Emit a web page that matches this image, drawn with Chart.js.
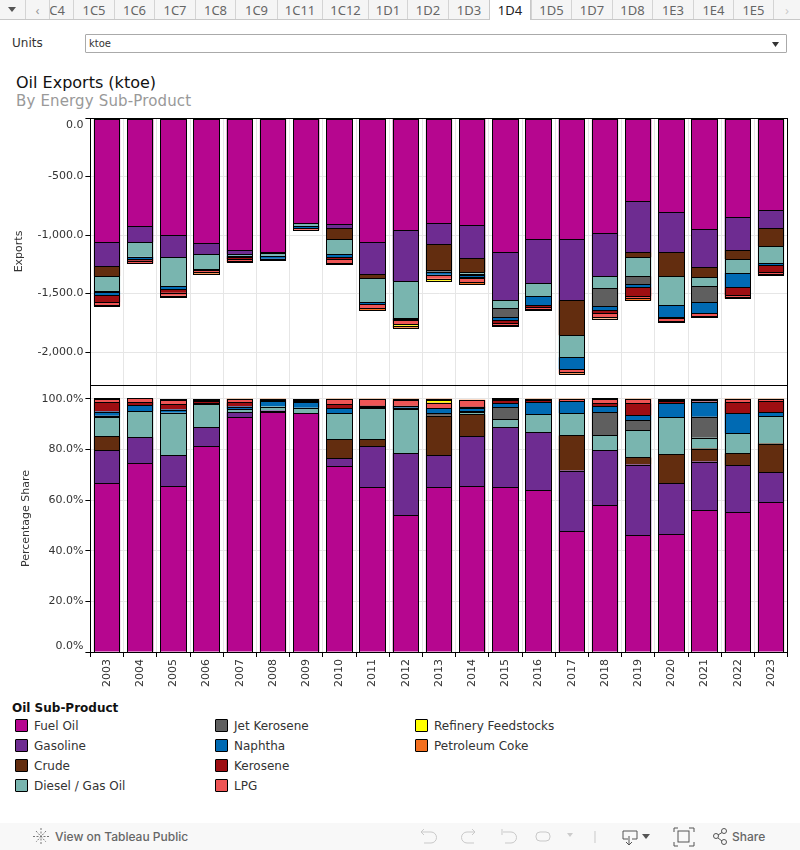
<!DOCTYPE html>
<html>
<head>
<meta charset="utf-8">
<title>Oil Exports (ktoe)</title>
<script src="https://cdn.jsdelivr.net/npm/chart.js@4"></script>
<style>
  html, body { margin: 0; padding: 0; background: #fff; }
  body { width: 800px; height: 850px; position: relative; overflow: hidden; font-family: "DejaVu Sans", sans-serif; }
  .abs { position: absolute; white-space: nowrap; }
  canvas { position: absolute; left: 0; }

  /* tab strip */
  #tabs { position: absolute; left: 0; top: 0; width: 800px; height: 19px; background: #f5f5f5; border-bottom: 1px solid #c8c8c8; }
  .tab { position: absolute; top: 0; height: 19px; line-height: 20px; text-align: center; font: 13px/20px "Noto Sans", sans-serif; color: #666; border-left: 1px solid #d4d4d4; box-sizing: border-box; overflow: hidden; }
  .tab.active { background: #fff; height: 20px; color: #222; border-left: 1px solid #c8c8c8; border-right: 1px solid #c8c8c8; }

  /* units box */
  #unitsBox { position: absolute; left: 85px; top: 34px; width: 702px; height: 19px; box-sizing: border-box; border: 1px solid #aaa; border-radius: 1px; font-size: 10px; line-height: 18px; padding-left: 3px; color: #333; }

  /* legend */
  .swatch { position: absolute; width: 13px; height: 13px; box-sizing: border-box; border: 1px solid #000; border-radius: 1px; }
  .lgText { position: absolute; font-size: 12px; line-height: 14px; color: #333; white-space: nowrap; }

  /* footer */
  #footer { position: absolute; left: 0; top: 823px; width: 800px; height: 27px; background: #f8f8f8; }
  #footer span { position: absolute; font: 500 12px/16px Inter, sans-serif; color: #666; white-space: nowrap; }
  #footer svg { position: absolute; left: 0; top: 0; }
</style>
</head>
<body>

<div id="tabs"></div>
<div class="abs" style="left:12px;top:36px;font-size:12px;line-height:14px;color:#333">Units</div>
<div id="unitsBox">ktoe<svg class="abs" style="right:7px;top:7px" width="7" height="5"><path d="M0 0H7L3.500 5Z" fill="#333"/></svg></div>
<div class="abs" style="left:16px;top:74px;font-size:16px;line-height:18px;color:#111">Oil Exports (ktoe)</div>
<div class="abs" style="left:16px;top:92px;font-size:15px;line-height:18px;color:#999;letter-spacing:.15px">By Energy Sub-Product</div>

<canvas id="exportsChart" width="800" height="286" style="top:100px"></canvas>
<canvas id="shareChart" width="800" height="315" style="top:385px"></canvas>

<div class="abs" style="left:12px;top:701px;font-size:12px;line-height:14px;font-weight:bold;color:#111">Oil Sub-Product</div>
<div id="legend"></div>

<div id="footer">
  <svg width="800" height="27" fill="none" stroke="#777" stroke-width="1">
    <g stroke-dasharray="2 1.5">
      <path d="M41 5V22M33 13.5H50M36 8L46 19M46 8L36 19"/>
    </g>
    <g stroke="#c9c9c9">
      <path d="M421 9H431A5 5 0 0 1 431 20H424M421 9L424 6M421 9L424 12"/>
      <path d="M475 9H467A5 5 0 0 0 467 20H474M475 9L472 6M475 9L472 12"/>
      <path d="M502 6V12M503 9H511A5 5 0 0 1 511 20H505"/>
      <rect x="536" y="9" width="14" height="9" rx="4"/>
      <path d="M595 8V20"/>
    </g>
    <path d="M567 10L573 10L570 14Z" fill="#ccc" stroke="none"/>
    <g stroke="#555">
      <path d="M623 16V8H637V16H632M623 16H628M629 13V21M626 19L629 22L632 19"/>
      <rect x="678" y="8" width="11" height="11"/>
      <path d="M674 9V5H678M689 5H694V9M694 19V23H689M678 23H674V19"/>
      <circle cx="716" cy="13" r="2.5"/><circle cx="724" cy="8" r="2.5"/><circle cx="724" cy="19" r="2.5"/>
      <path d="M718 12L722 9.500M718 15L722 18"/>
    </g>
    <path d="M642 11H650L646 16Z" fill="#555" stroke="none"/>
  </svg>
  <span style="left:55px;top:6px">View on Tableau Public</span>
  <span style="left:732px;top:6px">Share</span>
</div>

<script>
// ── Data ───────────────────────────────────────

const years = ['2003','2004','2005','2006','2007','2008','2009','2010','2011','2012','2013',
               '2014','2015','2016','2017','2018','2019','2020','2021','2022','2023'];

const productNames = ['Fuel Oil','Gasoline','Crude','Diesel / Gas Oil','Jet Kerosene',
                      'Naphtha','Kerosene','LPG','Refinery Feedstocks','Petroleum Coke'];
const productColors = ['#b6068f','#6e2c91','#632d0f','#79b5af','#5f5f5f',
                       '#006ab3','#9e0e12','#ee5555','#ffff00','#f47020'];

// exports, ktoe
const fuelOilKtoe  = [-1060,-923,-1000,-1069,-1129,-1146,-898,-906,-1060,-958,-898,-915,-1146,-1035,-1035,-983,-710,-803,-949,-846,-787];
const gasolineKtoe = [-205,-137,-188,-94,-34,-9,-3,-34,-274,-436,-180,-282,-410,-376,-522,-368,-436,-342,-325,-282,-154];
const crudeKtoe    = [-85,null,null,null,null,null,null,-94,-34,null,-222,-120,null,null,-299,null,-43,-205,-85,-77,-154];
const dieselKtoe   = [-128,-125,-248,-128,-12,-20,-18,-128,-205,-316,null,-14,-68,-111,-188,-103,-162,-248,-77,-120,-145];
const jetKtoe      = [-8,null,-3,null,null,null,null,null,null,-8,-14,-8,-77,null,null,-154,-68,null,-137,null,null];
const naphthaKtoe  = [-26,-22,-23,-5,-15,-28,-22,-26,-17,-8,-26,-22,-26,-77,-103,-34,-26,-103,-94,-120,-17];
const keroseneKtoe = [-60,-12,-31,-6,-15,-4,-3,-17,-3,-3,null,-10,-26,-17,null,-26,-77,-8,null,-68,-60];
const lpgKtoe      = [-26,-24,-26,-14,-17,-5,-10,-34,-31,-31,-33,-34,-17,-17,-26,-34,-17,-26,-26,-17,-17];
const feedKtoe     = [null,null,null,null,null,null,null,null,null,-14,-17,null,null,null,null,null,null,null,null,null,null];
const cokeKtoe     = [-8,null,-11,-14,-10,-5,-5,-11,-20,-17,-6,-17,-11,-11,-11,-11,-20,-11,-11,-11,-11];

// percentage share
const fuelOilPct  = [66.6,74.5,65.4,81.2,92.6,94.6,94.2,73.3,65.0,54.0,65.0,65.4,65.0,63.8,47.6,57.9,46.0,46.6,55.9,55.1,59.1];
const gasolinePct = [13.0,10.3,12.2,7.5,2.0,0.7,null,3.2,16.2,24.5,12.6,19.7,23.7,22.9,24.0,21.7,28.0,20.0,19.3,18.6,11.8];
const crudePct    = [5.5,null,null,null,null,null,null,7.5,2.8,null,15.7,8.7,null,null,13.9,null,2.8,11.4,5.1,4.7,11.4];
const dieselPct   = [7.5,10.3,16.8,9.1,1.2,1.6,2.2,10.3,12.2,17.4,null,0.8,3.2,7.1,8.7,5.9,10.7,14.6,4.3,7.9,10.7];
const jetPct      = [0.7,null,null,0.4,null,null,null,null,null,0.5,0.9,0.5,4.7,null,null,9.1,3.9,null,8.3,null,null];
const naphthaPct  = [1.6,2.4,1.3,null,1.1,2.0,2.4,2.0,0.7,0.6,2.0,1.1,1.6,4.7,4.7,2.4,2.0,5.5,5.9,7.9,1.6];
const kerosenePct = [3.6,1.2,2.2,0.8,1.6,0.4,0.4,1.6,0.4,0.2,null,0.7,1.2,0.8,null,1.2,4.7,0.8,null,4.3,4.3];
const lpgPct      = [1.3,1.4,1.7,0.5,1.2,0.4,0.4,1.8,2.4,2.2,2.2,2.4,0.4,0.4,0.8,1.6,1.6,0.7,0.7,1.2,0.8];
const feedPct     = [null,null,null,null,null,null,null,null,null,0.3,1.2,null,null,null,null,null,null,null,null,null,null];
const cokePct     = [0.3,null,0.3,0.4,0.3,0.3,0.3,0.3,0.3,0.3,0.4,0.3,0.3,0.3,0.3,0.3,0.3,0.3,0.3,0.3,0.3];

const exportsSeries = [fuelOilKtoe,gasolineKtoe,crudeKtoe,dieselKtoe,jetKtoe,naphthaKtoe,keroseneKtoe,lpgKtoe,feedKtoe,cokeKtoe];
const shareSeries   = [fuelOilPct,gasolinePct,crudePct,dieselPct,jetPct,naphthaPct,kerosenePct,lpgPct,feedPct,cokePct];

const exportTicks      = [0,-500,-1000,-1500,-2000];
const exportTickLabels = ['0.0','-500.0','-1,000.0','-1,500.0','-2,000.0'];
const shareTicks       = [0,20,40,60,80,100];
const shareTickLabels  = ['0.0%','20.0%','40.0%','60.0%','80.0%','100.0%'];

// order and x position of the worksheet tabs (first one is scrolled partly out of view)
const tabNames = ['1C4','1C5','1C6','1C7','1C8','1C9','1C11','1C12','1D1','1D2','1D3','1D4','1D5','1D7','1D8','1E3','1E4','1E5'];
const tabEdges = [49,73,114,154,195,235,277,322,368,407,448,489,531,571,612,652,693,733,773];

// ── Page furniture ─────────────────────────────

function buildTabs() {
  const strip = document.getElementById('tabs');
  let html = `<div class="tab" style="left:25px;width:24px;color:#999">‹</div>
              <svg class="abs" style="left:8px;top:7px" width="8" height="5"><path d="M0 0H8L4 5Z" fill="#555"/></svg>`;
  tabNames.forEach((name, i) => {
    const cls = name === '1D4' ? 'tab active' : 'tab';
    const label = i === 0 ? `<span style="position:absolute;right:8px">${name}</span>` : name;
    html += `<div class="${cls}" style="left:${tabEdges[i]}px;width:${tabEdges[i+1]-tabEdges[i]}px">${label}</div>`;
  });
  html += `<div class="tab" style="left:773px;width:27px;color:#ccc">›</div>`;
  strip.innerHTML = html;
}

function buildLegend() {
  const box = document.getElementById('legend');
  const columns = [[15,34],[215,234],[415,434]];
  box.innerHTML = productNames.map((name, i) => {
    const [sx, tx] = columns[Math.floor(i / 4)];
    const y = 719 + (i % 4) * 20;
    return `<div class="swatch" style="left:${sx}px;top:${y}px;background:${productColors[i]}"></div>
            <div class="lgText" style="left:${tx}px;top:${y}px">${name}</div>`;
  }).join('');
}

// ── Charts ─────────────────────────────────────

const TICK_FONT = { family: '"DejaVu Sans"', size: 11 };

// crisp 1px outline round every bar segment, snapped to the pixel grid
const outlinePlugin = {
  id: 'outline',
  afterDatasetsDraw(chart) {
    const { ctx } = chart;
    ctx.save();
    ctx.strokeStyle = '#000';
    ctx.lineWidth = 1;
    chart.data.datasets.forEach((_, d) => {
      chart.getDatasetMeta(d).data.forEach((bar) => {
        if (bar.skip) return;
        const left   = Math.round(bar.x - bar.width / 2) + 0.5;
        const right  = Math.round(bar.x + bar.width / 2) - 0.5;
        const top    = Math.round(Math.min(bar.y, bar.base)) + 0.5;
        const bottom = Math.round(Math.max(bar.y, bar.base)) + 0.5;
        ctx.strokeRect(left, top, right - left, bottom - top);
      });
    });
    ctx.restore();
  },
};

// black frame round the plot, plus the clamped end label Tableau shifts inside the plot
function framePlugin(endValue, endLabel, shift) {
  return {
    id: 'frame',
    afterDraw(chart) {
      const { ctx, chartArea: a, scales } = chart;
      ctx.save();
      ctx.strokeStyle = '#000';
      ctx.lineWidth = 1;
      ctx.strokeRect(Math.round(a.left) + 0.5, Math.round(a.top) + 0.5, Math.round(a.right - a.left), Math.round(a.bottom - a.top));
      ctx.fillStyle = '#333';
      ctx.font = '11px "DejaVu Sans"';
      ctx.textAlign = 'right';
      ctx.textBaseline = 'middle';
      ctx.fillText(endLabel, a.left - 7, scales.y.getPixelForValue(endValue) + shift);
      ctx.restore();
    },
  };
}

function makeChart(id, series, o) {
  return new Chart(document.getElementById(id), {
    type: 'bar',
    data: {
      labels: years,
      datasets: series.map((values, i) => ({
        label: productNames[i],
        data: values,
        backgroundColor: productColors[i],
        borderWidth: 0,
        inflateAmount: 0,
        barPercentage: 0.79,
        categoryPercentage: 1,
      })),
    },
    options: {
      responsive: false,
      animation: false,
      events: [],
      layout: { padding: { left: 0, right: 12.4, top: o.padTop, bottom: 0 } },
      plugins: { legend: { display: false }, tooltip: { enabled: false } },
      scales: {
        x: {
          stacked: true,
          offset: true,
          grid: { color: '#e6e6e6', drawTicks: o.xTicks, tickColor: '#000', tickLength: 5 },
          border: { color: '#000' },
          ticks: {
            display: o.xTicks,
            color: '#333', font: TICK_FONT,
            minRotation: 90, maxRotation: 90, autoSkip: false, padding: 2,
          },
          afterFit(scale) {
            scale.height = o.xHeight;
            scale.paddingLeft = 0;
            scale.paddingRight = 0;
          },
        },
        y: {
          stacked: true,
          min: o.min,
          max: o.max,
          grid: { color: '#e6e6e6', tickColor: '#000', tickLength: 5 },
          border: { color: '#000' },
          title: { display: true, text: o.title, color: '#333', font: TICK_FONT, padding: { top: o.titleInset, bottom: 0 } },
          afterBuildTicks(scale) { scale.ticks = o.ticks.map((value) => ({ value })); },
          ticks: {
            color: '#333', font: TICK_FONT, padding: 2,
            callback(value) {
              if (value === o.endValue) return '';
              return o.labels[o.ticks.indexOf(value)];
            },
          },
          afterFit(scale) {
            scale.width = 90.4;
            scale.paddingTop = 0;
            scale.paddingBottom = 0;
          },
        },
      },
    },
    plugins: [outlinePlugin, framePlugin(o.endValue, o.labels[o.ticks.indexOf(o.endValue)], o.endShift)],
  });
}

buildTabs();
buildLegend();

makeChart('exportsChart', exportsSeries, {
  min: -2281, max: 0, ticks: exportTicks, labels: exportTickLabels,
  endValue: 0, endShift: 7, title: 'Exports', titleInset: 13,
  padTop: 18, xHeight: 1, xTicks: false,
});

makeChart('shareChart', shareSeries, {
  min: 0, max: 105.4, ticks: shareTicks, labels: shareTickLabels,
  endValue: 0, endShift: -6, title: 'Percentage Share', titleInset: 20,
  padTop: 0, xHeight: 48, xTicks: true,
});
</script>
</body>
</html>
